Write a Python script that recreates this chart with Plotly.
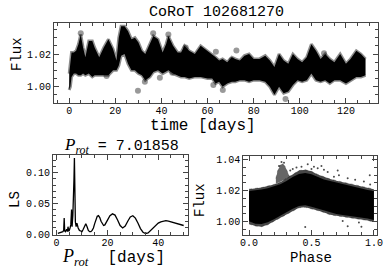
import plotly.graph_objects as go

# ---------------- data ----------------
# light curve band: time [days], upper and lower envelope of flux
lc_time = [0, 0.5, 1, 2, 3, 4, 5, 6, 7, 8.5, 10, 11, 13, 15, 17, 19, 20.5, 21.5, 22.5, 24,
           25.5, 27, 28.5, 30, 31.5, 33, 35, 36.5, 38.5, 40.5, 42, 43, 45, 47, 48.5, 50, 52,
           54.5, 57, 60, 62, 63.5, 65, 66.5, 68.5, 70.5, 72, 74, 76, 78, 80, 82.5, 85, 87,
           89, 91, 93, 95, 97, 99, 101, 103, 105, 107, 109, 111, 113, 115, 117.5, 120, 122,
           124.5, 126.5, 128.5]
lc_hi = [1.008, 1.016, 1.021, 1.021, 1.022, 1.026, 1.032, 1.024, 1.018, 1.028, 1.028, 1.024,
         1.018, 1.024, 1.029, 1.023, 1.016, 1.030, 1.037, 1.037, 1.034, 1.029, 1.030, 1.027,
         1.022, 1.020, 1.026, 1.031, 1.029, 1.021, 1.026, 1.031, 1.025, 1.021, 1.021, 1.025,
         1.022, 1.020, 1.025, 1.022, 1.020, 1.018, 1.016, 1.017, 1.015, 1.018, 1.017, 1.016,
         1.019, 1.020, 1.017, 1.017, 1.019, 1.016, 1.012, 1.020, 1.016, 1.014, 1.020, 1.017,
         1.015, 1.018, 1.026, 1.022, 1.017, 1.020, 1.017, 1.015, 1.020, 1.014, 1.017, 1.022,
         1.020, 1.017]
lc_lo = [0.998, 1.000, 1.006, 1.008, 1.008, 1.007, 1.007, 1.008, 1.007, 1.008, 1.006, 1.007,
         1.007, 1.007, 1.007, 1.010, 1.010, 1.013, 1.019, 1.020, 1.014, 1.010, 1.010, 1.008,
         1.007, 1.004, 1.006, 1.009, 1.010, 1.008, 1.009, 1.010, 1.008, 1.007, 1.006, 1.006,
         1.005, 1.006, 1.006, 1.005, 1.005, 1.002, 1.003, 1.000, 1.002, 1.003, 1.003, 1.004,
         1.004, 1.003, 1.004, 1.004, 1.003, 1.000, 0.995, 1.000, 0.996, 0.997, 1.001, 1.004,
         1.003, 1.004, 1.008, 1.004, 1.003, 1.004, 1.002, 1.004, 1.004, 1.002, 1.004, 1.006,
         1.006, 1.007]
# isolated light-curve points
out_time = [29.8, 93.8, 5.0, 36.4, 43.0, 72.5, 50.5, 63.6, 66.6, 39.3, 32.8, 110.5, 16.2,
            44.7, 70.4, 62.5]
out_flux = [0.9975, 0.9925, 1.0327, 1.0327, 1.0320, 1.0222, 1.0240, 1.0214, 0.9980, 1.0055,
            1.0030, 1.0204, 1.0065, 1.0086, 1.0163, 1.0010]

# Lomb-Scargle periodogram
ls_period = [0.5, 1.0, 1.5, 2.0, 2.5, 2.8, 3.0, 3.2, 3.5, 4.0, 4.3, 4.5, 4.8, 5.0, 5.3, 5.6,
             5.9, 6.1, 6.4, 6.7, 6.85, 7.02, 7.2, 7.4, 7.7, 8.0, 8.5, 9.0, 9.5, 10.0, 10.5,
             11.0, 11.5, 12.0, 12.5, 13.0, 13.5, 14.0, 14.5, 15.0, 15.5, 16.0, 16.5, 17.0,
             17.5, 18.0, 18.5, 19, 20, 21, 22, 23, 24, 25, 26, 27, 28, 29, 30, 31, 32, 33,
             34, 35, 36, 37, 38, 39, 40, 41, 42, 43, 44, 45, 46, 47, 48, 49, 50]
ls_power = [0.001, 0.002, 0.002, 0.003, 0.004, 0.006, 0.026, 0.005, 0.004, 0.008, 0.004,
            0.012, 0.005, 0.006, 0.010, 0.015, 0.040, 0.012, 0.030, 0.060, 0.090, 0.124,
            0.070, 0.020, 0.012, 0.018, 0.010, 0.006, 0.005, 0.004, 0.008, 0.014, 0.017,
            0.012, 0.006, 0.004, 0.004, 0.006, 0.010, 0.017, 0.025, 0.029, 0.030, 0.027,
            0.021, 0.016, 0.014, 0.015, 0.022, 0.030, 0.033, 0.031, 0.023, 0.014, 0.010,
            0.013, 0.021, 0.028, 0.030, 0.026, 0.018, 0.009, 0.003, 0.001, 0.002, 0.006,
            0.011, 0.015, 0.018, 0.020, 0.021, 0.022, 0.021, 0.020, 0.019, 0.018, 0.016,
            0.015, 0.014]
p_rot_label = "7.01858"

# phase-folded curve
ph = [0.0, 0.05, 0.1, 0.15, 0.2, 0.25, 0.3, 0.35, 0.4, 0.45, 0.5, 0.55, 0.6, 0.65, 0.7,
      0.75, 0.8, 0.85, 0.9, 0.95, 1.0]
ph_hi_outer = [1.0210, 1.0215, 1.0220, 1.0230, 1.0240, 1.0255, 1.0280, 1.0310, 1.0330,
               1.0335, 1.0325, 1.0305, 1.0288, 1.0275, 1.0265, 1.0255, 1.0245, 1.0235,
               1.0225, 1.0218, 1.0210]
ph_lo_outer = [0.9985, 0.9972, 0.9968, 0.9980, 1.0003, 1.0025, 1.0047, 1.0070, 1.0090,
               1.0093, 1.0084, 1.0072, 1.0060, 1.0044, 1.0038, 1.0032, 1.0026, 1.0023,
               1.0014, 1.0008, 0.9998]
ph_hi_core = [1.0198, 1.0202, 1.0207, 1.0216, 1.0228, 1.0242, 1.0262, 1.0288, 1.0308,
              1.0314, 1.0306, 1.0288, 1.0273, 1.0262, 1.0252, 1.0242, 1.0232, 1.0222,
              1.0212, 1.0205, 1.0198]
ph_lo_core = [1.0002, 0.9987, 0.9985, 0.9996, 1.0016, 1.0039, 1.0061, 1.0084, 1.0102,
              1.0106, 1.0096, 1.0085, 1.0074, 1.0058, 1.0050, 1.0043, 1.0037, 1.0034,
              1.0026, 1.0020, 1.0011]
blob_ph = [0.215, 0.23, 0.25, 0.27, 0.29, 0.31, 0.325]
blob_hi = [1.0280, 1.0330, 1.0365, 1.0375, 1.0355, 1.0320, 1.0290]
blob_lo = [1.0245, 1.0252, 1.0258, 1.0266, 1.0274, 1.0282, 1.0288]
spk_ph = [0.52, 0.72, 0.79, 0.967, 0.90, 0.79, 0.63, 0.71, 0.58, 0.47, 0.38, 0.35, 0.85,
          0.92, 0.45, 0.68, 0.55, 0.42, 0.60, 0.75, 0.88, 0.97, 0.33, 0.50, 0.26, 0.24,
          0.28, 0.12, 0.14]
spk_fx = [1.0355, 1.0300, 1.0280, 1.0300, 0.9968, 0.9970, 1.0320, 1.0330, 1.0360, 1.0370,
          1.0350, 1.0340, 1.0270, 1.0260, 0.9965, 1.0290, 1.0345, 1.0355, 1.0335, 1.0005,
          0.9995, 1.0240, 1.0330, 1.0340, 1.0385, 1.0360, 1.0380, 1.0030, 1.0025]

# ---------------- figure ----------------
W, H = 390, 279
MONO = "Liberation Mono, Courier New, monospace"
FRAME = "#444444"

fig = go.Figure()

# top: light curve band
fig.add_trace(go.Scatter(x=lc_time, y=lc_lo, mode="lines", line=dict(color="rgba(0,0,0,0.45)", width=3),
                         xaxis="x", yaxis="y", showlegend=False, hoverinfo="skip"))
fig.add_trace(go.Scatter(x=lc_time, y=lc_hi, mode="lines", line=dict(color="rgba(0,0,0,0.45)", width=3),
                         fill="tonexty", fillcolor="black",
                         xaxis="x", yaxis="y", showlegend=False, hoverinfo="skip"))
fig.add_trace(go.Scatter(x=out_time, y=out_flux, mode="markers",
                         marker=dict(size=6, color="rgba(0,0,0,0.4)", line=dict(width=0)),
                         xaxis="x", yaxis="y", showlegend=False))

# bottom-left: periodogram
fig.add_trace(go.Scatter(x=ls_period, y=ls_power, mode="lines", line=dict(color="black", width=1.3),
                         xaxis="x2", yaxis="y2", showlegend=False))

# bottom-right: phase-folded
fig.add_trace(go.Scatter(x=ph, y=ph_lo_outer, mode="lines", line=dict(color="rgba(0,0,0,0.4)", width=0.8, dash="dot"),
                         xaxis="x3", yaxis="y3", showlegend=False, hoverinfo="skip"))
fig.add_trace(go.Scatter(x=ph, y=ph_hi_outer, mode="lines", line=dict(color="rgba(0,0,0,0.4)", width=0.8, dash="dot"),
                         fill="tonexty", fillcolor="rgba(0,0,0,0.72)",
                         xaxis="x3", yaxis="y3", showlegend=False, hoverinfo="skip"))
fig.add_trace(go.Scatter(x=ph, y=ph_lo_core, mode="lines", line=dict(width=0),
                         xaxis="x3", yaxis="y3", showlegend=False, hoverinfo="skip"))
fig.add_trace(go.Scatter(x=ph, y=ph_hi_core, mode="lines", line=dict(width=0),
                         fill="tonexty", fillcolor="black",
                         xaxis="x3", yaxis="y3", showlegend=False, hoverinfo="skip"))
fig.add_trace(go.Scatter(x=blob_ph, y=blob_lo, mode="lines", line=dict(width=0),
                         xaxis="x3", yaxis="y3", showlegend=False, hoverinfo="skip"))
fig.add_trace(go.Scatter(x=blob_ph, y=blob_hi, mode="lines", line=dict(color="rgba(0,0,0,0.35)", width=0.8, dash="dot"),
                         fill="tonexty", fillcolor="rgba(0,0,0,0.6)",
                         xaxis="x3", yaxis="y3", showlegend=False, hoverinfo="skip"))
fig.add_trace(go.Scatter(x=spk_ph, y=spk_fx, mode="markers",
                         marker=dict(size=2, color="rgba(0,0,0,0.7)", line=dict(width=0)),
                         xaxis="x3", yaxis="y3", showlegend=False))


def ax(domain, rng, dtick, mdtick, tick0=0, fmt=None, standoff=None):
    d = dict(domain=domain, range=rng, autorange=False, dtick=dtick, tick0=tick0,
             automargin=False,
             showline=True, linecolor=FRAME, linewidth=1.2, mirror="allticks",
             ticks="inside", ticklen=5, tickwidth=1, tickcolor=FRAME,
             showgrid=False, zeroline=False,
             tickfont=dict(family=MONO, size=10, color="black"),
             minor=dict(ticks="inside", ticklen=3, tickwidth=1, tickcolor=FRAME,
                        dtick=mdtick, tick0=tick0, showgrid=False))
    if fmt:
        d["tickformat"] = fmt
    if standoff is not None:
        d["ticklabelstandoff"] = standoff
    return d


def px(x):
    return x / W


def py(y):
    return 1 - y / H


fig.update_layout(
    template="none",
    width=W, height=H, margin=dict(l=0, r=0, t=0, b=0, autoexpand=False),
    paper_bgcolor="white", plot_bgcolor="white",
    xaxis=ax([px(54), px(378)], [-6.6, 133.9], 20, 5, standoff=-2),
    yaxis=ax([py(103), py(23)], [0.990, 1.039], 0.02, 0.005, tick0=1.0, fmt=".2f"),
    xaxis2=ax([px(53), px(188)], [-1.4, 51.7], 20, 5, standoff=-2),
    yaxis2=ax([py(235), py(155)], [-0.0015, 0.129], 0.05, 0.01, fmt=".2f"),
    xaxis3=ax([px(243.3), px(376.7)], [-0.046, 1.0225], 0.5, 0.1, fmt=".1f", standoff=-2),
    yaxis3=ax([py(235), py(155.7)], [0.9914, 1.0426], 0.02, 0.005, tick0=1.0, fmt=".2f"),
)
fig.layout.xaxis.anchor = "y"
fig.layout.yaxis.anchor = "x"
fig.layout.xaxis2.anchor = "y2"
fig.layout.yaxis2.anchor = "x2"
fig.layout.xaxis3.anchor = "y3"
fig.layout.yaxis3.anchor = "x3"

ann = [
    dict(text="CoRoT 102681270", x=px(216), y=py(13), font=dict(family=MONO, size=15)),
    dict(text="time [days]", x=px(202.5), y=py(126), font=dict(family=MONO, size=16)),
    dict(text="Flux", x=px(17), y=py(54), textangle=-90, font=dict(family=MONO, size=14)),
    dict(text="<span style='font-family:Liberation Serif;font-size:17px'><i>P</i><sub><i>rot</i></sub></span> = " + p_rot_label,
         x=px(121.7), y=py(146), font=dict(family=MONO, size=15)),
    dict(text="LS", x=px(15), y=py(200), textangle=-90, font=dict(family=MONO, size=14)),
    dict(text="<span style='font-family:Liberation Serif;font-size:18px'><i>P</i><sub><i>rot</i></sub></span>  [days]",
         x=px(113), y=py(257), font=dict(family=MONO, size=16)),
    dict(text="Phase", x=px(311), y=py(258), font=dict(family=MONO, size=14)),
    dict(text="Flux", x=px(200), y=py(200), textangle=-90, font=dict(family=MONO, size=14)),
]
for a in ann:
    a.update(xref="paper", yref="paper", showarrow=False, xanchor="center", yanchor="middle")
    a["font"]["color"] = "black"
fig.update_layout(annotations=ann)

# remove the browser's default 8px page margin so the figure sits at the window origin
fig.write_html("out.html", config={"displayModeBar": False},
               post_script="document.body.style.margin='0';document.body.style.padding='0';")
